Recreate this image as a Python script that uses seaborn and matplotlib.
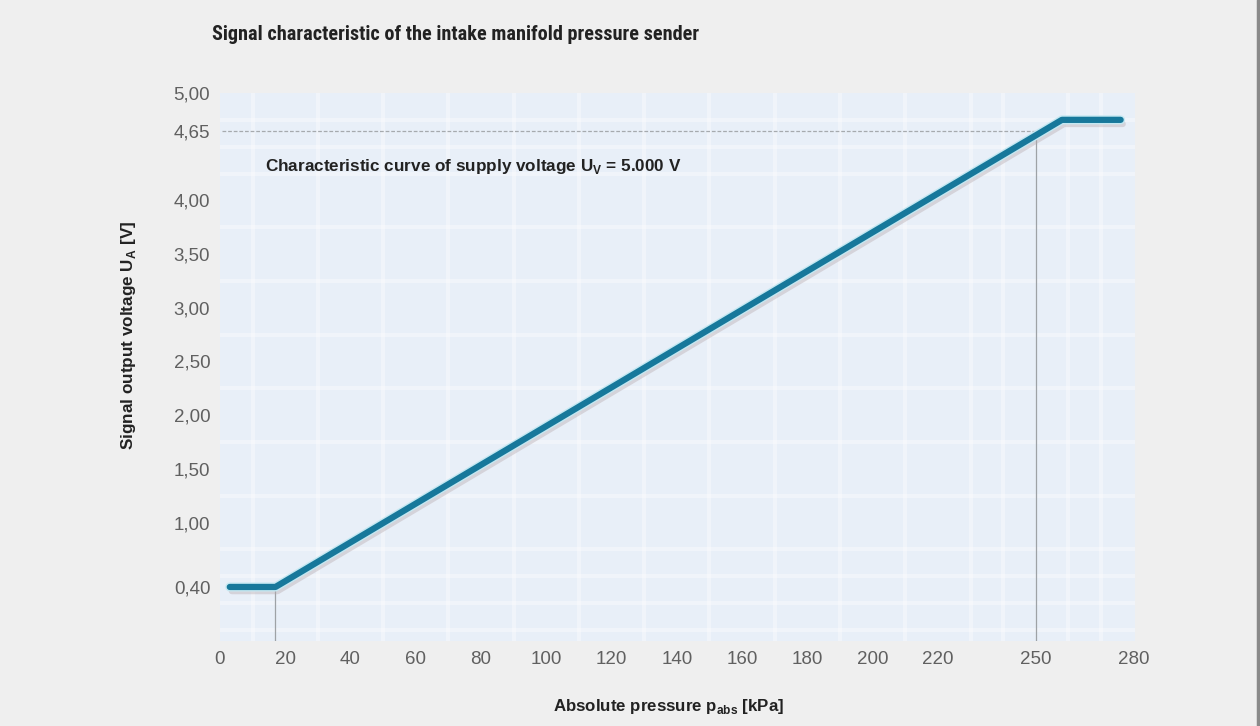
import matplotlib
matplotlib.use("Agg")
import matplotlib.pyplot as plt
import matplotlib.patheffects as pe
from matplotlib.ticker import MultipleLocator
from matplotlib.lines import Line2D
from matplotlib import font_manager
import pandas as pd
import seaborn as sns

# Data
pressure_kpa = [3, 17, 258, 276]
voltage_v = [0.40, 0.40, 4.75, 4.75]

x_ticks = [0, 20, 40, 60, 80, 100, 120, 140, 160, 180, 200, 220, 250, 280]
y_ticks = [0.40, 1.00, 1.50, 2.00, 2.50, 3.00, 3.50, 4.00, 4.65, 5.00]
y_tick_labels = ["0,40", "1,00", "1,50", "2,00", "2,50", "3,00", "3,50", "4,00", "4,65", "5,00"]

ref_pressure = 250
ref_voltage = 4.65
knee_pressure = 17
knee_voltage = 0.40

df = pd.DataFrame({"pressure": pressure_kpa, "voltage": voltage_v})

# Style
sns.set_style("white")
plt.rcParams["font.family"] = ["Liberation Sans", "DejaVu Sans"]
plt.rcParams["mathtext.fontset"] = "custom"
plt.rcParams["mathtext.rm"] = "Liberation Sans"
plt.rcParams["mathtext.bf"] = "Liberation Sans:bold"

# title is set in a condensed bold face in the original
names = {f.name for f in font_manager.fontManager.ttflist}
if "Roboto Condensed" in names:
    title_family, title_size = "Roboto Condensed", 14.6
else:
    title_family, title_size = "Roboto", 13.6

fig = plt.figure(figsize=(12.6, 7.26), dpi=100, facecolor="#efefef")
ax = fig.add_axes([0.1746, 0.1171, 0.7262, 0.7548])
ax.set_facecolor("#e8eff8")

# Grid (regular steps, independent of labelled ticks)
ax.xaxis.set_minor_locator(MultipleLocator(10))
ax.yaxis.set_minor_locator(MultipleLocator(0.25))
ax.grid(False, which="major")
ax.grid(True, which="minor", color="white", linewidth=3, alpha=0.35)
ax.tick_params(which="minor", length=0)

# Reference lines
ax.plot([0.6, ref_pressure], [ref_voltage, ref_voltage], color="#a6aaae",
        linewidth=0.9, linestyle=(0, (3, 1.5)), zorder=2)
ax.plot([ref_pressure, ref_pressure], [-0.2, ref_voltage], color="#9ea2a6",
        linewidth=0.9, zorder=2)
ax.plot([knee_pressure, knee_pressure], [-0.2, knee_voltage], color="#9ea2a6",
        linewidth=0.9, zorder=2)

# Characteristic curve
sns.lineplot(data=df, x="pressure", y="voltage", ax=ax, color="#17789b",
             linewidth=4.5, solid_capstyle="round", solid_joinstyle="round",
             zorder=5,
             path_effects=[pe.SimpleLineShadow(offset=(1.5, -3), shadow_color="#b8a9ad", alpha=0.4),
                           pe.Stroke(linewidth=6.5, foreground="#c4e8f2"),
                           pe.Normal()])

ax.set_xlim(0.6, 280.4)
ax.set_ylim(-0.103, 4.99)
ax.set_xticks(x_ticks)
ax.set_xticklabels([str(t) for t in x_ticks])
ax.set_yticks(y_ticks)
ax.set_yticklabels(y_tick_labels)
ax.tick_params(which="major", length=0, labelsize=13.5, labelcolor="#606060", pad=7)
for s in ax.spines.values():
    s.set_visible(False)

ax.set_xlabel(r"Absolute pressure p$_\mathbf{abs}$ [kPa]", fontsize=12.2,
              fontweight="bold", color="#222222")
ax.xaxis.set_label_coords(0.49, -0.102)
ax.set_ylabel(r"Signal output voltage U$_\mathbf{A}$ [V]", fontsize=12.3,
              fontweight="bold", color="#222222")
ax.yaxis.set_label_coords(-0.0896, 0.557)

ax.text(13.8, 4.32, r"Characteristic curve of supply voltage U$_\mathbf{V}$ = 5.000 V",
        fontsize=12.3, fontweight="bold", color="#222222", va="center", ha="left", zorder=6)

fig.text(212 / 1260, 1 - 35 / 726, "Signal characteristic of the intake manifold pressure sender",
         fontsize=title_size, fontweight="bold", family=title_family, color="#222222",
         va="center", ha="left")

fig.add_artist(Line2D([0.9985, 0.9985], [0, 1], transform=fig.transFigure,
                      color="#8a8a8a", linewidth=2.5))

fig.savefig("out.png", dpi=100, facecolor=fig.get_facecolor())
